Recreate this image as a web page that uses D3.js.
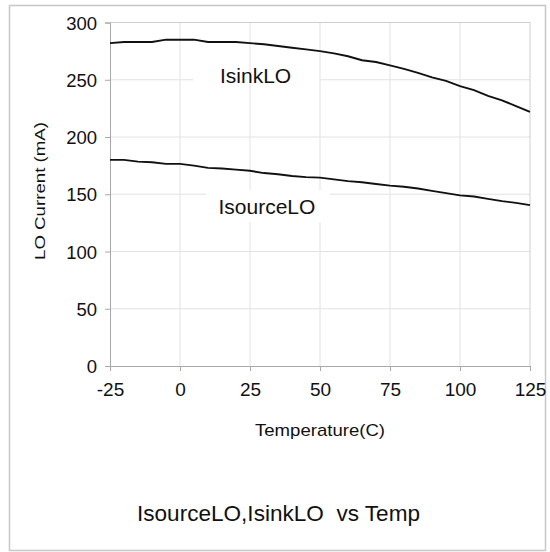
<!DOCTYPE html>
<html><head><meta charset="utf-8">
<script src="https://cdn.jsdelivr.net/npm/d3@7"></script>
<style>html,body{margin:0;padding:0;background:#fff;}svg{display:block;font-family:"Liberation Sans",Arial,sans-serif;}</style>
</head><body>
<svg id="c" width="550" height="552"></svg>
<script>
const temps    = [-25,-20,-15,-10,-5,0,5,10,15,20,25,30,35,40,45,50,55,60,65,70,75,80,85,90,95,100,105,110,115,120,125];
const isinkLO  = [282,283,283,283,285,285,285,283,283,283,282,281,279.5,278,276.5,275,273,270.5,267,265.5,262.5,259.5,256,252,249,244.5,241,236,232,227,222];
const isourceLO= [180,180,178.5,178,176.5,176.5,175,173,172.5,171.5,170.5,168.5,167.5,166,165,164.5,163,161.5,160.5,159,157.5,156.5,155,153,151,149,148,146,144,142.5,140.5];
const xTicks = [-25,0,25,50,75,100,125];
const yTicks = [0,50,100,150,200,250,300];
const seriesNames = ["IsinkLO","IsourceLO"];
const xTitle = "Temperature(C)";
const yTitle = "LO Current (mA)";
const chartTitle = "IsourceLO,IsinkLO  vs Temp";

const svg = d3.select("#c");
const x = d3.scaleLinear().domain([-25,125]).range([110,530]);
const y = d3.scaleLinear().domain([0,300]).range([366,22.5]);

// outer border
svg.append("rect").attr("x",9.5).attr("y",5.5).attr("width",536).attr("height",545)
  .attr("fill","#fff").attr("stroke","#c8c8c8").attr("stroke-width",1.5);

const grid = "#e2e2e2";
// horizontal grid
svg.append("g").selectAll("line").data(yTicks.slice(1,-1)).join("line")
  .attr("x1",x(-25)).attr("x2",x(125)).attr("y1",d=>y(d)).attr("y2",d=>y(d))
  .attr("stroke",grid).attr("stroke-width",1);
// label box for IsinkLO (hides horizontal grid only)
svg.append("rect").attr("x",193).attr("y",62).attr("width",127).attr("height",30).attr("fill","#fff");
// vertical grid
svg.append("g").selectAll("line").data(xTicks.slice(1,-1)).join("line")
  .attr("x1",d=>x(d)).attr("x2",d=>x(d)).attr("y1",y(300)).attr("y2",y(0))
  .attr("stroke",grid).attr("stroke-width",1);
// label box for IsourceLO
svg.append("rect").attr("x",206).attr("y",190).attr("width",124).attr("height",32).attr("fill","#fff");

// plot border top/right
svg.append("path").attr("d",`M${x(-25)},${y(300)}H${x(125)}V${y(0)}`)
  .attr("fill","none").attr("stroke","#cfcfcf").attr("stroke-width",1);

// axes
const fmt = d => String(d);
const xAxis = d3.axisBottom(x).tickValues(xTicks).tickFormat(fmt).tickSize(5).tickPadding(12);
const yAxis = d3.axisLeft(y).tickValues(yTicks).tickFormat(fmt).tickSize(5).tickPadding(8);
const gx = svg.append("g").attr("transform",`translate(0,${y(0)})`).call(xAxis);
const gy = svg.append("g").attr("transform",`translate(${x(-25)},0)`).call(yAxis);
[gx,gy].forEach(g=>{
  g.select(".domain").attr("stroke","#a8a8a8");
  g.selectAll(".tick line").attr("stroke","#a8a8a8");
  g.selectAll("text").attr("fill","#111").attr("font-family","Liberation Sans, Arial, sans-serif");
});
gx.selectAll("text").attr("font-size",19);
gy.selectAll("text").attr("font-size",18.5).attr("dy","0.36em");

// lines
const line = d3.line().x((d,i)=>x(temps[i])).y(d=>y(d));
[isinkLO,isourceLO].forEach(s=>{
  svg.append("path").attr("d",line(s)).attr("fill","none").attr("stroke","#111").attr("stroke-width",1.9);
});

// series labels
svg.append("text").attr("x",220).attr("y",83.3).attr("font-size",21).attr("fill","#111").text(seriesNames[0]);
svg.append("text").attr("x",218.5).attr("y",214.3).attr("font-size",21).attr("fill","#111").text(seriesNames[1]);

// axis titles
svg.append("text").attr("x",320).attr("y",436).attr("text-anchor","middle").attr("font-size",17)
  .attr("textLength",130).attr("lengthAdjust","spacingAndGlyphs").attr("fill","#111").text(xTitle);
svg.append("text").attr("transform","translate(45,191) rotate(-90)").attr("text-anchor","middle")
  .attr("font-size",15).attr("textLength",138).attr("lengthAdjust","spacingAndGlyphs").attr("fill","#111").text(yTitle);

// chart title
svg.append("text").attr("x",278.5).attr("y",521).attr("text-anchor","middle").attr("font-size",22)
  .attr("textLength",283).attr("lengthAdjust","spacingAndGlyphs").attr("fill","#111")
  .attr("xml:space","preserve").style("white-space","pre").text(chartTitle);
</script>
</body></html>
